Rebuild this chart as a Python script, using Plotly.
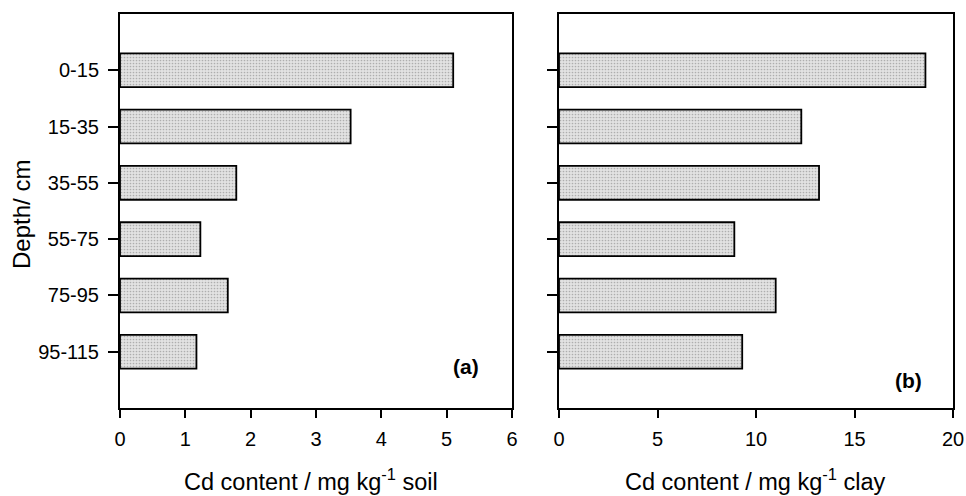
import plotly.graph_objects as go

depths = ["0-15", "15-35", "35-55", "55-75", "75-95", "95-115"]
cd_soil = [5.10, 3.53, 1.78, 1.23, 1.65, 1.17]
cd_clay = [18.6, 12.3, 13.2, 8.9, 11.0, 9.3]
soil_ticks = [0, 1, 2, 3, 4, 5, 6]
clay_ticks = [0, 5, 10, 15, 20]

W, H = 966, 496
FONT = "Arial, Liberation Sans, sans-serif"

def px_x(p):
    return p / W

def px_y(p):
    return 1 - p / H

bar_style = dict(
    color="#dedede",
    line=dict(color="black", width=1.8),
    pattern=dict(shape=".", bgcolor="#e2e2e2", fgcolor="#7a7a7a", size=3, solidity=0.25),
)

fig = go.Figure()
fig.add_trace(go.Bar(x=cd_soil, y=depths, orientation="h", width=0.6,
                     marker=bar_style, xaxis="x", yaxis="y", showlegend=False))
fig.add_trace(go.Bar(x=cd_clay, y=depths, orientation="h", width=0.6,
                     marker=bar_style, xaxis="x2", yaxis="y2", showlegend=False))

axis_common = dict(showline=True, linecolor="black", linewidth=2, mirror=True,
                   ticks="outside", tickcolor="black", tickwidth=2,
                   showgrid=False, zeroline=False, automargin=False,
                   tickfont=dict(family=FONT, size=20, color="black"))

ydom = [px_y(408), px_y(14)]
fig.update_layout(
    width=W, height=H,
    margin=dict(l=0, r=0, t=0, b=0),
    paper_bgcolor="white", plot_bgcolor="white",
    xaxis=dict(domain=[px_x(120), px_x(512)], anchor="y", range=[0, 6],
               tickvals=soil_ticks, ticklen=8, ticklabelstandoff=4, **axis_common),
    yaxis=dict(domain=ydom, anchor="x", type="category", range=[6, -1],
               ticklen=10, ticklabelstandoff=5, **axis_common),
    xaxis2=dict(domain=[px_x(559), px_x(953)], anchor="y2", range=[0, 20],
                tickvals=clay_ticks, ticklen=8, ticklabelstandoff=4, **axis_common),
    yaxis2=dict(domain=ydom, anchor="x2", type="category", range=[6, -1],
                ticklen=10, showticklabels=False, **axis_common),
)

ann_font = dict(family=FONT, size=23.5, color="black")
fig.add_annotation(text="Cd content / mg kg<sup>-1</sup> soil", x=px_x(311), y=px_y(480),
                   xref="paper", yref="paper", showarrow=False, font=ann_font,
                   xanchor="center", yanchor="middle")
fig.add_annotation(text="Cd content / mg kg<sup>-1</sup> clay", x=px_x(755), y=px_y(480),
                   xref="paper", yref="paper", showarrow=False, font=ann_font,
                   xanchor="center", yanchor="middle")
fig.add_annotation(text="Depth/ cm", x=px_x(21), y=px_y(215), textangle=-90,
                   xref="paper", yref="paper", showarrow=False,
                   font=dict(family=FONT, size=24, color="black"),
                   xanchor="center", yanchor="middle")
fig.add_annotation(text="<b>(a)</b>", x=px_x(466), y=px_y(366),
                   xref="paper", yref="paper", showarrow=False,
                   font=dict(family=FONT, size=21, color="black"),
                   xanchor="center", yanchor="middle")
fig.add_annotation(text="<b>(b)</b>", x=px_x(908), y=px_y(380),
                   xref="paper", yref="paper", showarrow=False,
                   font=dict(family=FONT, size=21, color="black"),
                   xanchor="center", yanchor="middle")

fig.write_html("out.html", config={"displayModeBar": False},
               post_script="document.body.style.margin='0';")
